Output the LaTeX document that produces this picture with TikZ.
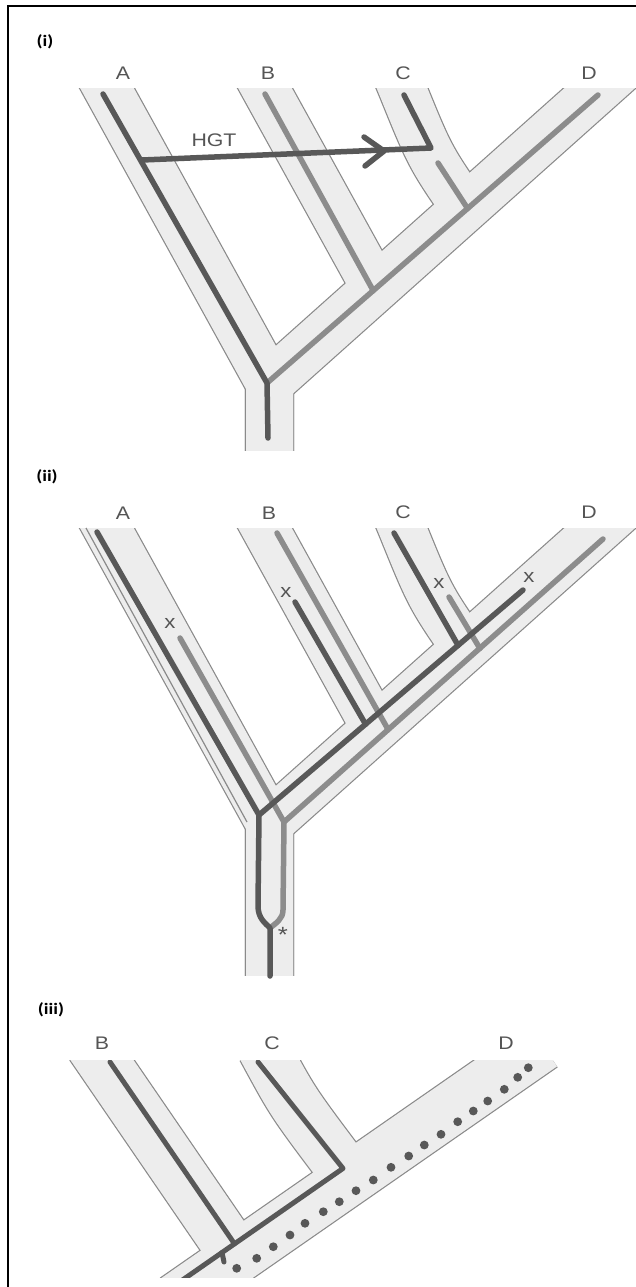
\documentclass[tikz,border=0pt]{standalone}
\usepackage{fontspec}
\setmainfont{Liberation Sans}
\newfontfamily\lblfont[FakeStretch=1.17]{Liberation Sans}
\newfontfamily\panelfont[FakeStretch=1.2]{Carlito}
\definecolor{edgecol}{HTML}{8A8A8A}
\definecolor{bandcol}{HTML}{EDEDED}
\definecolor{darkln}{HTML}{585858}
\definecolor{lightln}{HTML}{8C8C8C}
\definecolor{lblcol}{HTML}{555555}
\tikzset{
  bandout/.style={draw=edgecol, line width=24.7pt, line join=miter, line cap=butt},
  bandfill/.style={draw=bandcol, line width=23.5pt, line join=miter, line cap=butt},
  bandoutiii/.style={draw=edgecol, line width=27.2pt, line join=miter, line cap=butt},
  bandfilliii/.style={draw=bandcol, line width=26pt, line join=miter, line cap=butt},
  darkline/.style={draw=darkln, line width=2.75pt, line cap=round, line join=round},
  lightline/.style={draw=lightln, line width=2.75pt, line cap=round, line join=round},
  darklineiii/.style={draw=darkln, line width=2.5pt, line cap=round, line join=round},
  taxon/.style={inner sep=0pt, text=lblcol, font=\fontsize{9.1pt}{11pt}\lblfont},
  losslbl/.style={inner sep=0pt, text=lblcol, font=\fontsize{9.5pt}{11pt}\lblfont},
  panellbl/.style={inner sep=0pt, text=black, font=\fontsize{8pt}{10pt}\panelfont\bfseries},
  edgethin/.style={draw=edgecol, line width=0.6pt},
  dotmark/.style={fill=darkln}
}
\begin{document}
\begin{tikzpicture}[x=0.5pt,y={(0pt,-0.5pt)}]
\useasboundingbox (0,0) rectangle (636,1287);
\fill[white] (0,0) rectangle (636,1287);
% frame
\draw[line width=1.1pt, black] (8,1300) -- (8,6) -- (650,6);

% ================= panel (i) =================
\node[panellbl] (pi) at (45,42) {(i)};
\node[taxon] (Ai) at (123,73) {A};
\node[taxon] (Bi) at (268,73) {B};
\node[taxon] (Ci) at (403,73) {C};
\node[taxon] (Di) at (589,73) {D};
\begin{scope}
  \clip (0,88) rectangle (636,450);
  \foreach \s in {bandout,bandfill}{
    \draw[\s] (269.5,470) -- (269.5,383) -- (97,70);
    \draw[\s] (269.5,470) -- (269.5,383) -- (620,70);
    \draw[\s] (377,291) -- (255,70);
    \draw[\s] (468,212) .. controls (430,157) .. (402,88) -- (397,76);
  }
\end{scope}
\coordinate (ri) at (267,383);
\coordinate (ti) at (268,438);
\coordinate (aTi) at (103,94);
\coordinate (dTi) at (598,95);
\coordinate (bTi) at (265,94);
\coordinate (bJi) at (373.2,290.6);
\coordinate (cLi) at (438,163);
\coordinate (cJi) at (467.6,208.5);
\coordinate (hS) at (142,160);
\coordinate (hC) at (431,148);
\coordinate (cTi) at (404,95);
\draw[lightline] (ri) -- (dTi);
\draw[lightline] (bTi) -- (bJi);
\draw[lightline] (cLi) -- (cJi);
\draw[darkline] (ti) -- (ri) -- (aTi);
\draw[darkline] (hS) -- (hC) -- (cTi);
\draw[darkline] (364,137) -- (384,151) -- (365,166);
\node[taxon] (hgt) at (214,140) {HGT};

% ================= panel (ii) =================
\node[panellbl] (pii) at (47,477) {(ii)};
\node[taxon] (Aii) at (123,513) {A};
\node[taxon] (Bii) at (269,513) {B};
\node[taxon] (Cii) at (403,512) {C};
\node[taxon] (Dii) at (589,512) {D};
\begin{scope}[shift={(0,440)}]
  \clip (0,88) rectangle (636,535);
  \foreach \s in {bandout,bandfill}{
    \draw[\s] (269.5,560) -- (269.5,383) -- (97,70);
    \draw[\s] (269.5,560) -- (269.5,383) -- (620,70);
    \draw[\s] (377,291) -- (255,70);
    \draw[\s] (468,212) .. controls (430,157) .. (402,88) -- (397,76);
  }
\end{scope}
\draw[edgethin] (86,528) -- (247,822);
\coordinate (rDii) at (259,815);
\coordinate (rLii) at (284,822);
\coordinate (mii) at (270,928);
\draw[lightline] (180,638) -- (rLii) -- (283,910) .. controls (283,919) and (276,923) .. (mii);
\draw[lightline] (rLii) -- (603,539);
\draw[lightline] (277,533) -- (388.2,729.7);
\draw[lightline] (449,597) -- (479.9,648.4);
\draw[darkline] (97,532) -- (rDii) -- (258,906) .. controls (258,918) and (265,923) .. (mii) -- (270,976);
\draw[darkline] (rDii) -- (523,590);
\draw[darkline] (295,602) -- (365.6,724.3);
\draw[darkline] (394,533) -- (458.1,645.4);
\node[losslbl] (xA) at (170,623) {x};
\node[losslbl] (xB) at (286,592) {x};
\node[losslbl] (xC) at (439,583) {x};
\node[losslbl] (xD) at (529,577) {x};
\node[inner sep=0pt, text=lblcol, font=\fontsize{11pt}{12pt}\lblfont, anchor=base] (star) at (283,942) {*};

% ================= panel (iii) =================
\node[panellbl] (piii) at (51,1010) {(iii)};
\node[taxon] (Biii) at (102,1043) {B};
\node[taxon] (Ciii) at (272,1043) {C};
\node[taxon] (Diii) at (506,1043) {D};
\begin{scope}
  \clip (0,1060) rectangle (636,1277);
  \foreach \s in {bandoutiii,bandfilliii}{
    \draw[\s] (175.3,1300) -- (542.2,1045);
    \draw[\s] (237,1257.1) -- (91.7,1045);
    \draw[\s] (350.2,1178.5) .. controls (294,1104) .. (270,1060) -- (263.5,1048);
  }
  \draw[darklineiii] (175,1285.2) -- (343,1168.4) -- (258,1062);
  \draw[darklineiii] (110,1062) -- (234.5,1243.8);
  \draw[darklineiii] (222,1252.5) -- (224,1262);
  \foreach \p in {(236.7,1268.3),(256.7,1258.3),(273.3,1246.7),(290,1235),(305,1223.3),(323.3,1211.7),(339.3,1201.7),(356,1190.7),(373.3,1180),(391,1167.3),(408.7,1156),(424.3,1145),(441,1134.3),(457.7,1121.7),(473.3,1111),(487.7,1101),(504.3,1089.3),(517.7,1077.3),(528.3,1067.7)}{
    \fill[dotmark] \p circle[radius=2.2pt];
  }
\end{scope}
\end{tikzpicture}
\end{document}
